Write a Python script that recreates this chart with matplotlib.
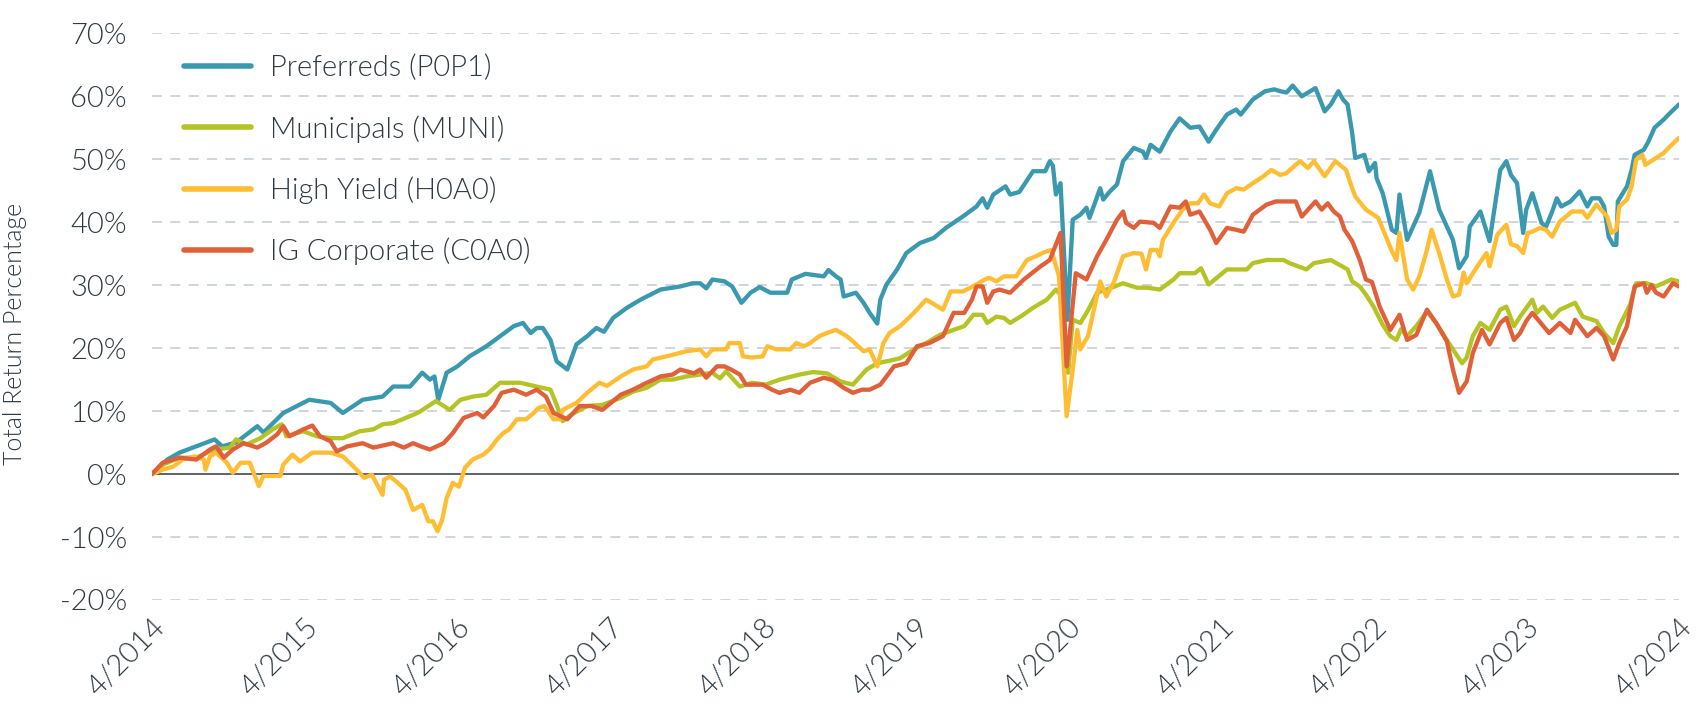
import matplotlib
matplotlib.use("Agg")
import matplotlib.pyplot as plt
import numpy as np

plt.rcParams['font.family'] = ['Lato', 'DejaVu Sans']

# x = years since April 2014, y = total return (%)
tick_labels = ["4/2014", "4/2015", "4/2016", "4/2017", "4/2018", "4/2019",
               "4/2020", "4/2021", "4/2022", "4/2023", "4/2024"]
y_ticks = [-20, -10, 0, 10, 20, 30, 40, 50, 60, 70]

series_names = ["Preferreds (P0P1)", "Municipals (MUNI)", "High Yield (H0A0)", "IG Corporate (C0A0)"]

preferreds = [
    (0.00, 0.0), (0.03, 0.5), (0.10, 2.3), (0.18, 3.4), (0.29, 4.4), (0.41, 5.5), (0.46, 4.4), (0.55, 5.0),
    (0.69, 7.6), (0.73, 6.6), (0.86, 9.7), (1.03, 11.8), (1.17, 11.3), (1.25, 9.7), (1.38, 11.8), (1.51, 12.3),
    (1.58, 13.9), (1.69, 13.9), (1.77, 16.1), (1.82, 15.0), (1.85, 15.5), (1.875, 11.8), (1.93, 16.1), (2.00, 17.1),
    (2.08, 18.7), (2.19, 20.3), (2.28, 21.9), (2.37, 23.5), (2.43, 24.0), (2.48, 22.4), (2.52, 23.2), (2.56, 23.2),
    (2.61, 21.3), (2.65, 17.9), (2.72, 16.6), (2.78, 20.6), (2.85, 21.9), (2.91, 23.2), (2.96, 22.6), (3.02, 24.8),
    (3.11, 26.4), (3.20, 27.7), (3.33, 29.3), (3.46, 29.8), (3.54, 30.3), (3.59, 30.3), (3.63, 29.5), (3.67, 30.9),
    (3.75, 30.6), (3.80, 29.8), (3.86, 27.2), (3.92, 28.8), (3.98, 29.7), (4.05, 28.8), (4.16, 28.8), (4.19, 30.9),
    (4.28, 31.8), (4.40, 31.4), (4.43, 32.4), (4.48, 31.4), (4.51, 30.9), (4.53, 28.2), (4.61, 28.8), (4.66, 27.2),
    (4.70, 25.6), (4.75, 23.9), (4.77, 27.7), (4.81, 30.1), (4.88, 32.5), (4.94, 35.1), (5.03, 36.7), (5.12, 37.5),
    (5.20, 39.1), (5.31, 40.9), (5.40, 42.5), (5.44, 43.8), (5.47, 42.3), (5.51, 44.4), (5.59, 45.7), (5.62, 44.4),
    (5.68, 44.8), (5.77, 48.1), (5.85, 48.1), (5.88, 49.7), (5.90, 49.0), (5.92, 44.4), (5.95, 46.2), (5.995, 24.5),
    (6.03, 40.4), (6.08, 41.2), (6.12, 42.3), (6.14, 40.7), (6.21, 45.4), (6.23, 43.6), (6.27, 44.8), (6.32, 46.0),
    (6.36, 49.7), (6.43, 51.8), (6.49, 51.2), (6.51, 50.2), (6.54, 52.3), (6.60, 51.2), (6.67, 54.4), (6.73, 56.5),
    (6.80, 55.0), (6.86, 55.2), (6.92, 52.8), (6.97, 54.7), (7.04, 57.1), (7.10, 57.9), (7.13, 57.1), (7.21, 59.5),
    (7.29, 60.8), (7.35, 61.1), (7.39, 60.8), (7.43, 60.6), (7.47, 61.7), (7.53, 60.0), (7.62, 61.3), (7.68, 57.6),
    (7.72, 58.7), (7.77, 60.8), (7.80, 59.5), (7.83, 58.7), (7.86, 54.2), (7.88, 50.2), (7.94, 50.7), (7.97, 48.1),
    (8.01, 49.4), (8.02, 47.0), (8.06, 44.6), (8.12, 38.8), (8.15, 38.3), (8.17, 44.4), (8.22, 37.2), (8.30, 41.5),
    (8.37, 48.1), (8.43, 42.0), (8.52, 37.2), (8.56, 32.7), (8.61, 34.6), (8.63, 39.3), (8.70, 41.7), (8.76, 37.0),
    (8.83, 48.3), (8.87, 49.7), (8.90, 47.5), (8.94, 46.2), (8.98, 38.3), (9.00, 42.0), (9.04, 44.6), (9.10, 39.9),
    (9.13, 39.3), (9.17, 41.7), (9.20, 43.8), (9.23, 42.5), (9.29, 43.3), (9.35, 44.9), (9.40, 42.5), (9.43, 43.8),
    (9.48, 43.8), (9.51, 42.5), (9.54, 37.7), (9.57, 36.4), (9.59, 36.4), (9.60, 43.3), (9.66, 45.7), (9.69, 48.3),
    (9.71, 50.7), (9.77, 51.5), (9.80, 52.8), (9.84, 55.0), (9.90, 56.3), (9.94, 57.3), (10.0, 58.7),
]

municipals = [
    (0.00, 0.0), (0.07, 1.5), (0.18, 2.6), (0.29, 2.6), (0.38, 3.6), (0.45, 4.0), (0.51, 4.2), (0.55, 5.5),
    (0.62, 4.7), (0.71, 5.7), (0.79, 7.1), (0.85, 7.9), (0.88, 6.0), (0.99, 6.8), (1.08, 6.0), (1.17, 5.7),
    (1.25, 5.7), (1.36, 6.8), (1.45, 7.1), (1.51, 7.9), (1.58, 8.1), (1.71, 9.4), (1.76, 10.0), (1.86, 11.6),
    (1.95, 10.2), (2.02, 11.8), (2.10, 12.3), (2.19, 12.6), (2.28, 14.5), (2.41, 14.5), (2.52, 13.9), (2.61, 13.4),
    (2.65, 11.0), (2.69, 8.4), (2.75, 9.5), (2.85, 10.8), (2.95, 11.0), (3.07, 12.1), (3.15, 13.1), (3.24, 13.7),
    (3.33, 15.0), (3.41, 15.0), (3.50, 15.5), (3.59, 15.8), (3.67, 16.1), (3.72, 15.2), (3.76, 16.3), (3.85, 13.9),
    (3.93, 14.5), (4.02, 14.2), (4.11, 15.0), (4.24, 15.8), (4.33, 16.2), (4.42, 16.0), (4.51, 14.7), (4.59, 14.2),
    (4.68, 16.6), (4.75, 17.6), (4.83, 18.0), (4.90, 18.4), (4.99, 19.8), (5.07, 20.8), (5.16, 22.1), (5.25, 22.9),
    (5.32, 23.5), (5.38, 25.3), (5.44, 25.3), (5.47, 24.0), (5.53, 25.0), (5.58, 24.8), (5.62, 24.0), (5.70, 25.2),
    (5.77, 26.4), (5.86, 27.7), (5.92, 29.3), (5.95, 28.5), (6.00, 16.1), (6.03, 24.5), (6.08, 24.0), (6.13, 26.0),
    (6.19, 28.8), (6.25, 29.3), (6.36, 30.3), (6.45, 29.6), (6.52, 29.6), (6.60, 29.3), (6.69, 30.9), (6.73, 31.9),
    (6.83, 31.9), (6.87, 32.7), (6.92, 30.1), (6.97, 31.1), (7.04, 32.5), (7.17, 32.5), (7.21, 33.5), (7.30, 34.0),
    (7.41, 34.0), (7.45, 33.5), (7.56, 32.5), (7.61, 33.5), (7.72, 34.0), (7.83, 32.5), (7.86, 30.6), (7.91, 29.8),
    (7.95, 28.5), (8.00, 26.6), (8.06, 23.7), (8.11, 21.9), (8.15, 21.3), (8.18, 23.0), (8.22, 21.9), (8.28, 23.5),
    (8.35, 25.8), (8.41, 24.0), (8.48, 21.3), (8.52, 19.8), (8.58, 17.6), (8.61, 18.5), (8.65, 21.9), (8.70, 24.0),
    (8.76, 22.9), (8.83, 26.1), (8.87, 26.6), (8.92, 23.5), (8.96, 25.0), (9.04, 27.7), (9.07, 25.6), (9.11, 26.6),
    (9.17, 24.8), (9.22, 26.1), (9.32, 27.2), (9.37, 25.0), (9.46, 24.3), (9.51, 22.4), (9.57, 20.8), (9.61, 23.5),
    (9.68, 26.9), (9.72, 30.3), (9.79, 30.3), (9.85, 29.8), (9.95, 30.9), (10.0, 30.6),
]

high_yield = [
    (0.00, 0.0), (0.07, 0.7), (0.14, 1.2), (0.20, 2.3), (0.28, 2.8), (0.34, 2.3), (0.35, 0.7), (0.38, 2.8),
    (0.42, 3.4), (0.49, 1.8), (0.53, 0.2), (0.58, 1.8), (0.64, 1.8), (0.70, -1.9), (0.73, -0.3), (0.84, -0.3),
    (0.86, 1.5), (0.92, 3.1), (0.97, 2.0), (1.05, 3.4), (1.17, 3.4), (1.25, 2.8), (1.32, 1.2), (1.39, -0.6),
    (1.44, -0.1), (1.51, -3.3), (1.52, -0.9), (1.56, -0.4), (1.61, -1.4), (1.66, -2.5), (1.71, -5.7), (1.77, -4.9),
    (1.81, -7.5), (1.84, -7.5), (1.87, -9.1), (1.90, -7.3), (1.93, -3.8), (1.97, -1.4), (2.01, -2.0), (2.05, 1.0),
    (2.10, 2.3), (2.17, 3.1), (2.21, 3.9), (2.26, 5.5), (2.30, 6.5), (2.34, 7.1), (2.39, 8.7), (2.45, 8.7),
    (2.50, 9.7), (2.53, 10.5), (2.57, 10.8), (2.63, 8.7), (2.67, 8.7), (2.69, 10.2), (2.78, 11.3), (2.85, 12.9),
    (2.93, 14.5), (2.98, 14.0), (3.07, 15.5), (3.15, 16.6), (3.24, 17.1), (3.28, 18.2), (3.37, 18.7), (3.50, 19.5),
    (3.59, 19.8), (3.63, 18.7), (3.67, 19.8), (3.76, 19.8), (3.78, 20.8), (3.85, 20.8), (3.87, 18.7), (3.93, 18.5),
    (4.00, 18.7), (4.03, 20.3), (4.09, 19.8), (4.18, 19.8), (4.22, 20.8), (4.27, 20.3), (4.31, 20.8), (4.37, 21.9),
    (4.42, 22.4), (4.48, 22.9), (4.55, 21.9), (4.59, 21.1), (4.66, 19.5), (4.70, 19.8), (4.75, 17.1), (4.79, 20.8),
    (4.83, 22.4), (4.90, 23.5), (4.99, 25.6), (5.07, 27.7), (5.12, 27.0), (5.18, 26.1), (5.23, 29.0), (5.31, 29.0),
    (5.36, 29.6), (5.47, 31.1), (5.49, 31.1), (5.53, 30.6), (5.58, 31.4), (5.66, 31.4), (5.73, 34.0), (5.79, 34.6),
    (5.84, 35.2), (5.89, 35.6), (5.94, 31.4), (5.99, 9.2), (6.03, 16.6), (6.06, 22.9), (6.08, 19.8), (6.13, 21.9),
    (6.21, 30.6), (6.25, 28.2), (6.30, 30.5), (6.36, 34.6), (6.43, 35.1), (6.48, 35.0), (6.51, 32.5), (6.54, 35.6),
    (6.58, 35.6), (6.60, 34.6), (6.62, 37.2), (6.69, 39.9), (6.75, 42.0), (6.80, 43.0), (6.85, 43.0), (6.89, 44.4),
    (6.93, 43.0), (6.99, 42.5), (7.04, 44.6), (7.10, 45.4), (7.15, 45.2), (7.21, 46.2), (7.28, 47.3), (7.33, 48.3),
    (7.39, 47.5), (7.43, 47.8), (7.48, 48.9), (7.52, 49.7), (7.57, 48.6), (7.61, 49.7), (7.68, 47.3), (7.75, 49.7),
    (7.82, 48.3), (7.86, 45.4), (7.88, 44.1), (7.95, 42.0), (8.03, 40.7), (8.09, 37.2), (8.12, 35.4), (8.15, 34.0),
    (8.17, 38.3), (8.22, 30.9), (8.26, 29.3), (8.30, 31.4), (8.35, 35.6), (8.38, 38.8), (8.43, 35.1), (8.48, 30.9),
    (8.52, 28.2), (8.56, 28.5), (8.59, 32.0), (8.61, 30.3), (8.68, 33.0), (8.74, 35.1), (8.76, 33.0), (8.81, 38.0),
    (8.87, 39.6), (8.90, 36.5), (8.94, 36.2), (8.98, 35.1), (9.01, 38.3), (9.04, 38.5), (9.09, 39.1), (9.13, 38.8),
    (9.17, 37.7), (9.22, 40.1), (9.30, 41.7), (9.37, 41.7), (9.40, 40.7), (9.46, 42.8), (9.53, 40.9), (9.56, 38.3),
    (9.59, 38.8), (9.61, 42.5), (9.66, 43.6), (9.69, 45.7), (9.72, 49.9), (9.76, 50.7), (9.78, 49.1), (9.85, 50.2),
    (9.90, 51.0), (9.94, 52.0), (10.0, 53.4),
]

ig_corporate = [
    (0.00, 0.0), (0.07, 1.8), (0.18, 2.6), (0.29, 2.3), (0.38, 3.9), (0.42, 4.4), (0.47, 2.6), (0.53, 3.9),
    (0.60, 4.9), (0.69, 4.2), (0.75, 5.0), (0.82, 6.3), (0.86, 7.6), (0.90, 6.0), (0.99, 7.1), (1.05, 7.7),
    (1.10, 6.0), (1.17, 5.2), (1.21, 3.6), (1.28, 4.4), (1.38, 4.9), (1.45, 4.2), (1.58, 4.9), (1.65, 4.2),
    (1.71, 4.9), (1.76, 4.4), (1.82, 3.9), (1.91, 4.9), (1.97, 6.5), (2.04, 8.9), (2.13, 9.7), (2.17, 9.0),
    (2.24, 10.8), (2.29, 12.9), (2.37, 13.4), (2.45, 12.6), (2.52, 13.4), (2.58, 12.3), (2.63, 9.7), (2.72, 8.7),
    (2.80, 10.8), (2.88, 10.8), (2.95, 10.2), (3.07, 12.6), (3.15, 13.4), (3.24, 14.5), (3.33, 15.5), (3.41, 15.8),
    (3.46, 16.6), (3.55, 16.0), (3.59, 16.6), (3.63, 15.3), (3.70, 17.1), (3.75, 17.1), (3.80, 16.5), (3.85, 15.8),
    (3.89, 14.2), (4.00, 14.2), (4.06, 13.4), (4.11, 12.9), (4.18, 13.4), (4.24, 12.9), (4.31, 14.5), (4.40, 15.3),
    (4.46, 14.9), (4.53, 13.7), (4.59, 12.9), (4.65, 13.4), (4.70, 13.4), (4.77, 14.2), (4.86, 17.1), (4.94, 17.6),
    (5.01, 20.3), (5.09, 20.8), (5.18, 21.9), (5.25, 25.6), (5.32, 25.6), (5.37, 27.7), (5.40, 29.8), (5.44, 29.8),
    (5.47, 27.2), (5.51, 29.0), (5.55, 29.3), (5.62, 28.8), (5.71, 30.9), (5.82, 33.0), (5.88, 34.0), (5.95, 38.3),
    (5.99, 17.1), (6.05, 31.9), (6.12, 30.9), (6.19, 34.6), (6.25, 37.2), (6.32, 40.4), (6.36, 41.7), (6.38, 39.9),
    (6.43, 39.1), (6.47, 40.1), (6.56, 39.9), (6.60, 39.1), (6.67, 42.5), (6.73, 42.3), (6.77, 43.3), (6.80, 41.2),
    (6.86, 41.7), (6.93, 38.8), (6.97, 36.7), (7.04, 39.1), (7.10, 38.8), (7.15, 38.5), (7.21, 41.2), (7.30, 42.8),
    (7.36, 43.3), (7.49, 43.3), (7.53, 40.9), (7.62, 43.3), (7.66, 42.0), (7.70, 43.0), (7.74, 41.7), (7.78, 40.9),
    (7.81, 38.8), (7.86, 37.0), (7.91, 34.0), (7.95, 30.9), (7.99, 30.5), (8.04, 26.6), (8.11, 22.9), (8.17, 25.3),
    (8.22, 21.3), (8.28, 22.1), (8.35, 26.1), (8.41, 24.0), (8.48, 21.1), (8.52, 16.6), (8.56, 12.9), (8.61, 14.7),
    (8.65, 19.2), (8.71, 22.9), (8.76, 20.6), (8.83, 24.0), (8.87, 24.8), (8.92, 21.3), (8.96, 22.4), (9.00, 24.3),
    (9.04, 25.6), (9.15, 22.4), (9.22, 24.0), (9.29, 22.4), (9.32, 24.5), (9.40, 21.9), (9.46, 23.2), (9.51, 21.9),
    (9.57, 18.2), (9.61, 20.8), (9.66, 23.5), (9.71, 29.8), (9.77, 30.3), (9.79, 28.8), (9.82, 30.0), (9.85, 28.8),
    (9.90, 28.2), (9.96, 30.3), (10.0, 29.8),
]

colors = ["#3A99AE", "#B4C325", "#FFBD33", "#E0603A"]
text_color = "#2E3A43"
fw = 300

fig = plt.figure(figsize=(17, 7.2), dpi=100)
ax = fig.add_axes([0.0894, 0.1667, 0.8982, 0.787])

for data, name, col in zip([preferreds, municipals, high_yield, ig_corporate], series_names, colors):
    t, v = zip(*data)
    ax.plot(t, v, color=col, lw=3.1, label=name, solid_joinstyle='round', solid_capstyle='round', zorder=3)

ax.set_xlim(0, 10)
ax.set_ylim(-20, 70)
ax.set_yticks(y_ticks)
ax.set_yticklabels([f"{v}%" for v in y_ticks])
ax.set_xticks(range(len(tick_labels)))
ax.set_xticklabels(tick_labels, rotation=45, ha='right', va='top', rotation_mode='anchor')

for s in ax.spines.values():
    s.set_visible(False)
ax.tick_params(axis='both', length=0, labelsize=21, colors=text_color)
ax.tick_params(axis='y', pad=18)
ax.tick_params(axis='x', pad=10)
for lab in ax.get_xticklabels() + ax.get_yticklabels():
    lab.set_fontweight(fw)

for yv in y_ticks:
    if yv != 0:
        ax.axhline(yv, color="#C8CED5", lw=1.2, ls=(0, (6, 5)), zorder=1)
ax.axhline(0, color="#3F4B50", lw=1.2, zorder=2)

ax.set_ylabel("Total Return Percentage", fontsize=18, color=text_color, fontweight=fw)
ax.yaxis.set_label_coords(-0.082, 0.47)

leg = ax.legend(loc='upper left', bbox_to_anchor=(0.021, 0.962), frameon=False,
                fontsize=21, handlelength=2.3, handletextpad=0.65, labelspacing=1.15,
                borderaxespad=0, borderpad=0)
for txt in leg.get_texts():
    txt.set_color(text_color)
    txt.set_fontweight(fw)
for h in leg.get_lines():
    h.set_linewidth(4)
    h.set_solid_capstyle('round')

fig.savefig("out.png", dpi=100, facecolor='white')
